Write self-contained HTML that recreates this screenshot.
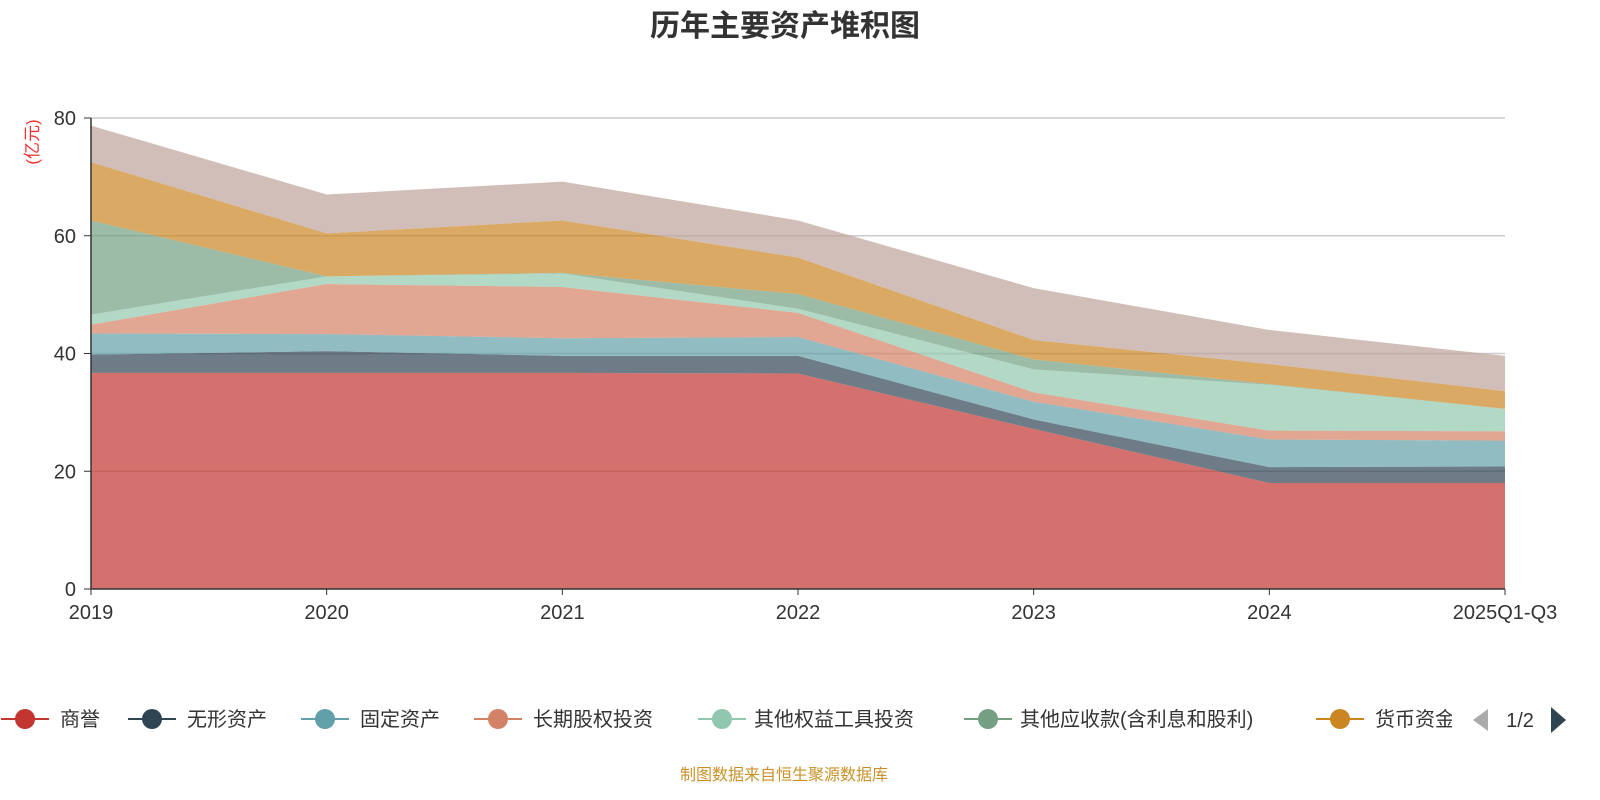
<!DOCTYPE html>
<html><head><meta charset="utf-8">
<style>
html,body{margin:0;padding:0;background:#fff;width:1600px;height:800px;overflow:hidden;font-family:"Liberation Sans","Noto Sans CJK SC",sans-serif;}
</style></head>
<body>
<svg id="chart" width="1600" height="800" xmlns="http://www.w3.org/2000/svg" style="font-family:'Liberation Sans','Noto Sans CJK SC',sans-serif">
<text x="785" y="36" text-anchor="middle" font-size="30" font-weight="bold" fill="#333">历年主要资产堆积图</text>
<text transform="translate(38,142) rotate(-90)" text-anchor="middle" font-size="17" fill="#e33">(亿元)</text>
<g id="grid"></g>
<g id="areas"></g>
<g id="axes"></g>
<g id="legend"></g>
<text x="784" y="780" text-anchor="middle" font-size="16" fill="#c8922a">制图数据来自恒生聚源数据库</text>
</svg>
<script>
const categories = ["2019","2020","2021","2022","2023","2024","2025Q1-Q3"];
const seriesNames = ["商誉","无形资产","固定资产","长期股权投资","其他权益工具投资","其他应收款(含利息和股利)","货币资金","其他"];
const s0 = [36.7,36.7,36.7,36.6,27.2,18.0,18.0];
const s1 = [3.1,3.7,2.9,3.0,1.6,2.7,2.8];
const s2 = [3.6,2.9,3.0,3.2,3.0,4.7,4.4];
const s3 = [1.5,8.5,8.7,4.1,1.6,1.5,1.6];
const s4 = [1.7,1.3,2.3,0.7,3.9,7.8,3.8];
const s5 = [16.0,0,0.1,2.5,1.7,0.1,0];
const s6 = [9.9,7.3,8.9,6.2,3.3,3.4,3.0];
const s7 = [6.2,6.6,6.6,6.3,8.8,5.8,6.0];
const yTicks = [0,20,40,60,80];
const seriesData = [s0,s1,s2,s3,s4,s5,s6,s7];
const colors = ["#c23531","#2f4554","#61a0a8","#d48265","#91c7ae","#749f83","#ca8622","#bda29a"];
const x0=91,x1=1505,yb=589,yt=118,ymax=80;
const xs=i=>x0+(x1-x0)*i/(categories.length-1);
const ys=v=>yb-(yb-yt)*v/ymax;
const NS="http://www.w3.org/2000/svg";
function mk(tag,attrs,parent){const e=document.createElementNS(NS,tag);for(const k in attrs)e.setAttribute(k,attrs[k]);parent.appendChild(e);return e;}
const grid=document.getElementById('grid'),areas=document.getElementById('areas'),axes=document.getElementById('axes'),legend=document.getElementById('legend');
yTicks.forEach(t=>{
  if(t>0){const l=mk('line',{x1:x0,x2:x1,y1:ys(t),y2:ys(t),stroke:'#ccc','stroke-width':1.5},grid);
  
  }
  const tx=mk('text',{x:76,y:ys(t)+7,'text-anchor':'end','font-size':20,fill:'#333'},axes);tx.textContent=t;
  
  
  const tk=mk('line',{x1:84,x2:x0,y1:ys(t),y2:ys(t),stroke:'#333'},axes);
  
  
});
let base=categories.map(()=>0);
seriesData.forEach((s,si)=>{
  const top=base.map((b,i)=>b+s[i]);
  let d='M'+top.map((v,i)=>xs(i)+','+ys(v)).join(' L');
  for(let i=categories.length-1;i>=0;i--)d+=' L'+xs(i)+','+ys(base[i]);
  d+='Z';
  const p=mk('path',{d:d,fill:colors[si],'fill-opacity':0.7,stroke:'none'},areas);
  
  
  base=top;
});
const ax=mk('line',{x1:x0,x2:x1,y1:yb,y2:yb,stroke:'#333','stroke-width':1.5},axes);


const ay=mk('line',{x1:x0,x2:x0,y1:yt,y2:yb,stroke:'#333','stroke-width':1.5},axes);


categories.forEach((c,i)=>{
  const tk=mk('line',{x1:xs(i),x2:xs(i),y1:yb,y2:yb+6,stroke:'#333'},axes);
  
  
  const t=mk('text',{x:xs(i),y:619,'text-anchor':'middle','font-size':20,fill:'#333'},axes);t.textContent=c;
  
  
});
const legX=[25,152,325,498,722,988,1340];
const legT=[60,187,360,533,754,1020,1375];
const clip=mk('clipPath',{id:'legclip'},legend);mk('rect',{x:0,y:690,width:1452,height:60},clip);
const lg=mk('g',{'clip-path':'url(#legclip)'},legend);
for(let i=0;i<7;i++){
  const g=mk('g',{},lg);
  
  
  mk('line',{x1:legX[i]-24,x2:legX[i]+24,y1:719,y2:719,stroke:colors[i],'stroke-width':2},g);
  mk('circle',{cx:legX[i],cy:719,r:10,fill:colors[i]},g);
  const t=mk('text',{x:legT[i],y:726,'font-size':20,fill:'#333'},g);t.textContent=seriesNames[i];
}
const pv=mk('path',{d:'M1488,709 L1473,720 L1488,731Z',fill:'#aaa'},legend);


const pt=mk('text',{x:1520,y:727,'text-anchor':'middle','font-size':20,fill:'#333'},legend);pt.textContent='1/2';


const nx=mk('path',{d:'M1551,707 L1566,720 L1551,733Z',fill:'#2f4554'},legend);


</script>
</body></html>
